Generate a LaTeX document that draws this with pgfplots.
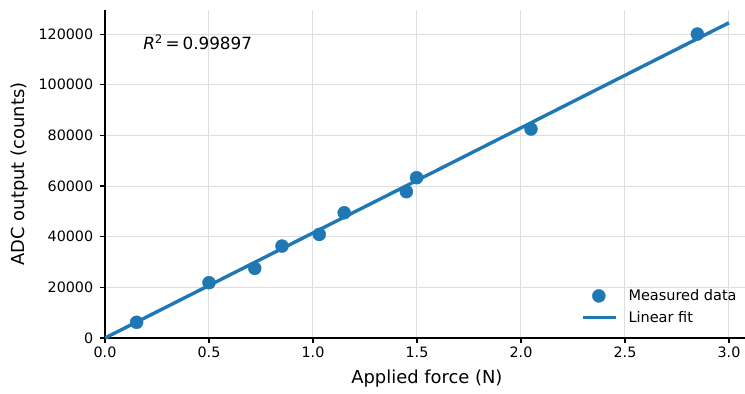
\documentclass[border=0pt]{standalone}
\usepackage{pgfplots}
\pgfplotsset{compat=1.18}
\usepackage{fontspec}
\setmainfont{DejaVu Sans}
\definecolor{mplblue}{HTML}{1F77B4}
\definecolor{gridgray}{RGB}{222,222,222}
\pgfplotsset{
  dotlegend/.style={legend image code/.code={\draw[##1] plot[mark=*] coordinates {(16bp,0cm)};\path (0cm,0cm) (42bp,0cm);}},
  linelegend/.style={legend image code/.code={\draw[##1] (0cm,0cm) -- (33bp,0cm);\path (42bp,0cm);}},
}
\begin{document}
\begin{tikzpicture}
\path[use as bounding box] (-105bp,-56bp) rectangle (640bp,338bp);
\begin{axis}[
  scale only axis,
  width=640bp, height=328bp,
  xmin=0, xmax=3.077,
  ymin=0, ymax=129500,
  axis x line*=bottom, axis y line*=left,
  axis line style={-, line width=1.1bp, black},
  xtick={0,0.5,1,1.5,2,2.5,3},
  ytick={0,20000,40000,60000,80000,100000,120000},
  scaled y ticks=false,
  ticklabel style={font=\fontsize{14.3bp}{16bp}\selectfont},
  xticklabel style={yshift=-1bp, /pgf/number format/.cd, fixed, fixed zerofill, precision=1},
  yticklabel style={xshift=-3.5bp, /pgf/number format/.cd, fixed, 1000 sep={}},
  /pgf/number format/assume math mode=true,
  tick align=outside,
  major tick length=4.8bp,
  tick style={black, line width=1.1bp},
  grid=major,
  major grid style={gridgray, line width=1bp},
  xlabel={Applied force (N)},
  ylabel={ADC output (counts)},
  label style={font=\fontsize{17.9bp}{21bp}\selectfont},
  x label style={at={(axis description cs:0.503,-0.125)}, anchor=center},
  y label style={at={(axis description cs:-0.133,0.5)}, anchor=center},
  legend style={at={(rel axis cs:0.995,0.031)}, anchor=south east, draw=none, fill=none,
    font=\fontsize{14.5bp}{17bp}\selectfont, row sep=5bp, cells={anchor=west}},
  legend cell align=left,
]
\addplot[only marks, mark=*, mark size=6.5bp, color=mplblue, mark options={draw=mplblue, fill=mplblue}, dotlegend]
coordinates {
(0.152,6200) (0.50,21830) (0.72,27500) (0.851,36300) (1.03,40900)
(1.15,49460) (1.449,57760) (1.498,63280) (2.048,82500) (2.848,120000)
};
\addlegendentry{Measured data}
\addplot[no marks, color=mplblue, line width=3.4bp, linelegend]
coordinates {(0,0) (3.0,124460)};
\addlegendentry{Linear fit}
\node[anchor=west, font=\fontsize{16.8bp}{19bp}\selectfont, inner sep=0pt] at (axis cs:0.183,116900) {\textit{R}\textsuperscript{2}\,=\,0.99897};
\end{axis}
\end{tikzpicture}
\end{document}
